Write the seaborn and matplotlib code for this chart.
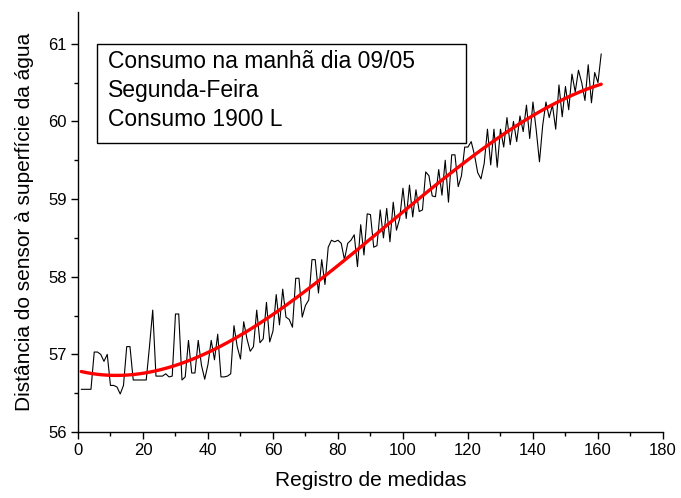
import numpy as np
import pandas as pd
import seaborn as sns
import matplotlib
matplotlib.use("Agg")
import matplotlib.pyplot as plt
from matplotlib.patches import Rectangle
from matplotlib.ticker import MultipleLocator

# ---- data ----
distancia = [
    56.55, 56.55, 56.55, 56.55, 57.03, 57.03, 57.00, 56.91, 57.00, 56.60,
    56.60, 56.58, 56.49, 56.60, 57.10, 57.10, 56.67, 56.67, 56.67, 56.67,
    56.67, 57.10, 57.57, 56.72, 56.72, 56.72, 56.75, 56.71, 56.72, 57.52,
    57.52, 56.67, 56.71, 57.18, 56.76, 56.76, 57.18, 56.86, 56.68, 56.87,
    57.18, 56.93, 57.26, 56.71, 56.71, 56.72, 56.75, 57.37, 57.10, 56.94,
    57.42, 57.20, 57.04, 57.10, 57.57, 57.15, 57.20, 57.67, 57.16, 57.30,
    57.77, 57.38, 57.84, 57.48, 57.45, 57.35, 57.98, 57.98, 57.48, 57.63,
    57.70, 58.22, 58.22, 57.79, 58.22, 57.90, 58.38, 58.47, 58.45, 58.47,
    58.43, 58.22, 58.43, 58.47, 58.54, 58.13, 58.67, 58.28, 58.81, 58.80,
    58.38, 58.40, 58.86, 58.50, 58.88, 58.45, 58.96, 58.60, 58.75, 59.14,
    58.75, 59.18, 58.77, 59.12, 58.84, 58.86, 59.35, 59.30, 59.04, 59.03,
    59.38, 59.05, 59.50, 58.96, 59.57, 59.57, 59.16, 59.30, 59.67, 59.67,
    59.74, 59.57, 59.34, 59.26, 59.46, 59.90, 59.44, 59.90, 59.41, 59.90,
    59.67, 60.05, 59.70, 60.00, 59.74, 60.07, 59.87, 60.21, 59.78, 60.25,
    59.89, 59.48, 59.95, 60.25, 60.05, 60.21, 59.90, 60.47, 60.06, 60.45,
    60.15, 60.61, 60.38, 60.66, 60.50, 60.27, 60.73, 60.24, 60.63, 60.50,
    60.87,
]
registro = list(range(1, len(distancia) + 1))
x_ticks = [0, 20, 40, 60, 80, 100, 120, 140, 160, 180]
y_ticks = [56, 57, 58, 59, 60, 61]
info_lines = ["Consumo na manhã dia 09/05", "Segunda-Feira", "Consumo 1900 L"]

df = pd.DataFrame({"registro": registro, "distancia": distancia})

sns.set_theme(style="ticks")
plt.rcParams["font.family"] = ["Liberation Sans", "DejaVu Sans"]

fig = plt.figure(figsize=(6.81, 4.98), dpi=100)
ax = fig.add_axes([0.1145, 0.1325, 0.859, 0.8435])

sns.lineplot(data=df, x="registro", y="distancia", color="black", lw=0.8, ax=ax)
sns.regplot(data=df, x="registro", y="distancia", order=3, ci=None, scatter=False,
            line_kws={"color": "#ff0000", "lw": 2.4}, ax=ax)

ax.set_xlim(0, 180)
ax.set_ylim(56, 61.41)
ax.set_xticks(x_ticks)
ax.set_yticks(y_ticks)
ax.xaxis.set_minor_locator(MultipleLocator(10))
ax.yaxis.set_minor_locator(MultipleLocator(0.5))
ax.tick_params(which="major", direction="out", length=5, width=1, colors="black",
               labelsize=12, pad=3)
ax.tick_params(which="minor", direction="out", length=3, width=1, colors="black")
for s in ["top", "right"]:
    ax.spines[s].set_visible(False)
for s in ["left", "bottom"]:
    ax.spines[s].set_color("black")
    ax.spines[s].set_linewidth(1)

ax.set_xlabel("Registro de medidas", fontsize=15, color="black", labelpad=9)
ax.set_ylabel("Distância do sensor à superfície da água", fontsize=15, color="black",
              labelpad=10)

ax.add_patch(Rectangle((0.0325, 0.688), 0.631, 0.236, transform=ax.transAxes,
                       facecolor="white", edgecolor="black", lw=1, zorder=5))
for txt, yy in zip(info_lines, [0.881, 0.814, 0.745]):
    ax.text(0.051, yy, txt, transform=ax.transAxes, fontsize=16.5, va="center",
            ha="left", color="black", zorder=6)

fig.savefig("out.png", dpi=100)
